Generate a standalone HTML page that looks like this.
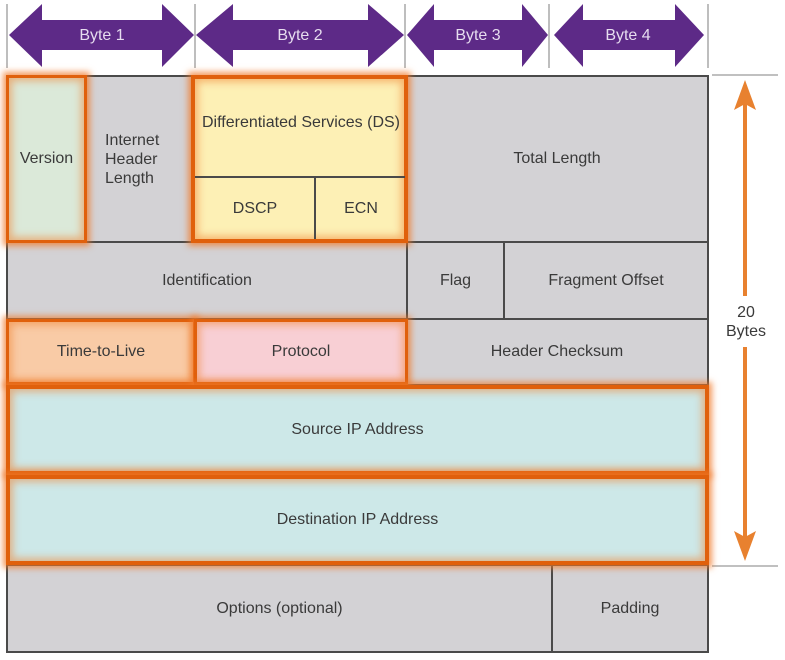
<!DOCTYPE html>
<html><head><style>
body{margin:0;width:785px;height:660px;background:#fff;position:relative;overflow:hidden;font-family:"Liberation Sans",sans-serif;}
.c{position:absolute;box-sizing:border-box;display:flex;align-items:center;justify-content:center;text-align:center;color:#3a3a3a;font-size:16px;background:#d3d2d5;border:2px solid #4a4a4a;}
.h{border:3px solid #e0600c;box-shadow:0 0 6px 3px rgba(240,120,40,.75), inset 0 0 8px 3px rgba(240,130,50,.55);z-index:2}
svg{position:absolute;left:0;top:0}
</style></head><body>
<svg width="785" height="660" style="z-index:0">
<g stroke="#9a9a9a" stroke-width="1.3">
<line x1="7" y1="4" x2="7" y2="68"/><line x1="195" y1="4" x2="195" y2="68"/><line x1="405" y1="4" x2="405" y2="68"/><line x1="549" y1="4" x2="549" y2="68"/><line x1="708" y1="4" x2="708" y2="68"/>
<line x1="712" y1="75" x2="778" y2="75"/><line x1="712" y1="566" x2="778" y2="566"/>
</g>
<g fill="#5d2a87">
<polygon points="9,35 42,4 42,20 162,20 162,4 194,35 162,67 162,50 42,50 42,67"/>
<polygon points="196,35 233,4 233,20 368,20 368,4 404,35 368,67 368,50 233,50 233,67"/>
<polygon points="407,35 434,4 434,20 522,20 522,4 548,35 522,67 522,50 434,50 434,67"/>
<polygon points="554,35 583,4 583,20 675,20 675,4 704,35 675,67 675,50 583,50 583,67"/>
</g>
<g font-family="Liberation Sans,sans-serif" font-size="16" fill="#e6dcef" text-anchor="middle">
<text x="102" y="40">Byte 1</text><text x="300" y="40">Byte 2</text><text x="478" y="40">Byte 3</text><text x="628" y="40">Byte 4</text>
</g>
<g fill="#e8812f" stroke="#e8812f">
<line x1="745" y1="100" x2="745" y2="296" stroke-width="4"/>
<line x1="745" y1="347" x2="745" y2="540" stroke-width="4"/>
<polygon points="745,80 734,110 745,104 756,110" stroke="none"/>
<polygon points="745,561 734,531 745,537 756,531" stroke="none"/>
</g>
<g font-family="Liberation Sans,sans-serif" font-size="16" fill="#3a3a3a" text-anchor="middle">
<text x="746" y="317">20</text><text x="746" y="336">Bytes</text>
</g>
</svg>
<div class="c" style="left:6px;top:75px;width:703px;height:578px;background:#d3d2d5"></div>
<div class="c" style="left:84px;top:75px;width:110px;height:168px;line-height:19px;justify-content:flex-start;padding-left:19px;text-align:left">Internet<br>Header<br>Length</div>
<div class="c" style="left:405px;top:75px;width:304px;height:168px">Total Length</div>
<div class="c" style="left:6px;top:241px;width:402px;height:79px">Identification</div>
<div class="c" style="left:406px;top:241px;width:99px;height:79px">Flag</div>
<div class="c" style="left:503px;top:241px;width:206px;height:79px">Fragment Offset</div>
<div class="c" style="left:405px;top:318px;width:304px;height:68px">Header Checksum</div>
<div class="c" style="left:6px;top:564px;width:547px;height:89px">Options (optional)</div>
<div class="c" style="left:551px;top:564px;width:158px;height:89px">Padding</div>
<div class="c h" style="left:6px;top:75px;width:81px;height:168px;background:#dbe9d9">Version</div>
<div class="c h" style="left:191px;top:75px;width:217px;height:168px;background:#fdf0b5;border-width:4px"></div>
<div style="position:absolute;left:195px;top:114px;width:212px;text-align:center;font-size:16px;color:#3a3a3a;z-index:3">Differentiated Services (DS)</div>
<div style="position:absolute;left:195px;top:176px;width:210px;height:2px;background:#4a4a4a;z-index:3"></div>
<div style="position:absolute;left:314px;top:177px;width:2px;height:62px;background:#4a4a4a;z-index:3"></div>
<div style="position:absolute;left:195px;top:200px;width:120px;text-align:center;font-size:16px;color:#3a3a3a;z-index:3">DSCP</div>
<div style="position:absolute;left:316px;top:200px;width:90px;text-align:center;font-size:16px;color:#3a3a3a;z-index:3">ECN</div>
<div class="c h" style="left:6px;top:319px;width:190px;height:66px;background:#f9cba6">Time-to-Live</div>
<div class="c h" style="left:194px;top:319px;width:214px;height:66px;background:#f8cfd4">Protocol</div>
<div class="c h" style="left:6px;top:385px;width:703px;height:90px;background:#cde8e8;border-width:4px">Source IP Address</div>
<div class="c h" style="left:6px;top:475px;width:703px;height:90px;background:#cde8e8;border-width:4px">Destination IP Address</div>
</body></html>
